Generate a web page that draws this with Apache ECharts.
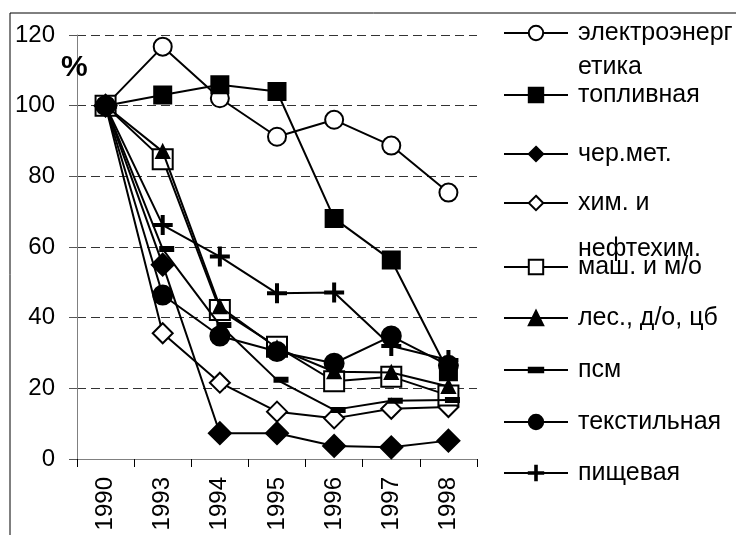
<!DOCTYPE html>
<html>
<head>
<meta charset="utf-8">
<script src="https://cdn.jsdelivr.net/npm/echarts@6/dist/echarts.min.js"></script>
<style>html,body{margin:0;padding:0;background:#fff}#c{width:736px;height:535px}</style>
</head>
<body>
<div id="c"></div>
<script>
// ---- data ----
const categories = ['1990', '1993', '1994', '1995', '1996', '1997', '1998'];
const yTicks = [0, 20, 40, 60, 80, 100, 120];
const seriesNames = ['электроэнергетика', 'топливная', 'чер.мет.', 'хим. и нефтехим.', 'маш. и м/о', 'лес., д/о, цб', 'псм', 'текстильная', 'пищевая'];
const legendLabels = ['электроэнерг\nетика', 'топливная', 'чер.мет.', 'хим. и\nнефтехим.', 'маш. и м/о', 'лес., д/о, цб', 'псм', 'текстильная', 'пищевая'];
const elektro   = [100, 116.7, 102.1, 91.2, 96.0, 88.7, 75.4];
const toplivnaya = [100, 103.0, 105.9, 104.0, 68.1, 56.3, 24.7];
const chermet   = [100, 55.0, 7.3, 7.3, 3.7, 3.3, 5.2];
const khim      = [100, 35.6, 21.6, 13.4, 11.5, 14.2, 14.7];
const mash      = [100, 84.8, 42.2, 31.8, 22.0, 23.3, 18.0];
const les       = [100, 87.0, 43.1, 31.4, 24.7, 24.5, 20.5];
const psm       = [100, 59.4, 37.9, 22.4, 13.9, 16.5, 16.7];
const tekstil   = [100, 46.4, 34.8, 30.4, 27.1, 34.8, 26.5];
const pishch    = [100, 66.2, 57.3, 46.9, 47.1, 32.0, 28.0];
const allValues = [elektro, toplivnaya, chermet, khim, mash, les, psm, tekstil, pishch];

// ---- styles ----
const FONT = 'Liberation Sans, Arial, sans-serif';
const DASH = 'path://M0,0M13,13M0,4.5H13V8.5H0Z';
const PLUS = 'path://M0,8H18V10H0Z M8,0H10V18H8Z';
const symbols = [
  {s: 'emptyCircle', size: 18},
  {s: 'rect', size: 17},
  {s: 'diamond', size: 22},
  {s: 'emptyDiamond', size: 20},
  {s: 'emptyRect', size: 20},
  {s: 'triangle', size: 13},
  {s: DASH, size: 13, offset: [4, 0]},
  {s: 'circle', size: 19},
  {s: PLUS, size: 18}
];
// legend layout: symbol-centre y and line height
const legendY = [33, 95, 154, 203, 267, 318, 370, 422, 473];
const legendLH = [34, 28, 28, 46, 28, 28, 28, 28, 28];

const series = seriesNames.map((name, i) => ({
  name: name,
  type: 'line',
  data: allValues[i],
  symbol: symbols[i].s,
  symbolSize: symbols[i].size,
  symbolOffset: symbols[i].offset || [0, 0],
  showAllSymbol: true,
  lineStyle: {color: '#000', width: 2},
  itemStyle: {color: '#000', borderColor: '#000', borderWidth: 2},
  emphasis: {disabled: true},
  animation: false,
  z: 2 + i
}));

const legends = seriesNames.map((name, i) => {
  const L = legendLH[i];
  const two = legendLabels[i].indexOf('\n') >= 0;
  // for two-line labels an empty first line keeps the first text line level with the symbol
  const text = two ? '\n' + legendLabels[i] : legendLabels[i];
  const top = two ? legendY[i] - 1.5 * L : legendY[i] - Math.max(L, 18) / 2;
  return {
    data: [name],
    orient: 'vertical',
    left: 503,
    top: top,
    padding: 0,
    itemWidth: 64,
    itemHeight: 18,
    selectedMode: false,
    formatter: () => text,
    textStyle: {fontFamily: FONT, fontSize: 25, color: '#000', lineHeight: L, padding: [0, 0, 0, 5]}
  };
});

const chart = echarts.init(document.getElementById('c'), null, {renderer: 'canvas'});
chart.setOption({
  backgroundColor: '#fff',
  animation: false,
  grid: {left: 77, right: 259, top: 35, bottom: 76, containLabel: false},
  legend: legends,
  xAxis: {
    type: 'category',
    data: categories,
    boundaryGap: true,
    axisLine: {show: true, lineStyle: {color: '#808080', width: 1}},
    axisTick: {show: true, length: 8, interval: 0, alignWithLabel: false, lineStyle: {color: '#000'}},
    axisLabel: {rotate: 90, margin: 18, interval: 0, fontFamily: FONT, fontSize: 24, color: '#000'},
    splitLine: {show: false}
  },
  yAxis: {
    type: 'value',
    min: yTicks[0],
    max: yTicks[yTicks.length - 1],
    interval: yTicks[1] - yTicks[0],
    axisLine: {show: true, lineStyle: {color: '#808080', width: 1}},
    axisTick: {show: true, length: 8, lineStyle: {color: '#555'}},
    axisLabel: {margin: 22, fontFamily: FONT, fontSize: 24, color: '#000'},
    splitLine: {show: true, lineStyle: {color: '#333', width: 1, type: [9, 5]}}
  },
  graphic: [
    {type: 'rect', shape: {x: 10, y: 13, width: 900, height: 700}, style: {fill: 'none', stroke: '#000', lineWidth: 1}, silent: true, z: 0},
    {type: 'text', x: 61, y: 53, style: {text: '%', fontFamily: FONT, fontSize: 30, fontWeight: 'bold', fill: '#000'}, silent: true, z: 50}
  ],
  series: series
});
</script>
</body>
</html>
